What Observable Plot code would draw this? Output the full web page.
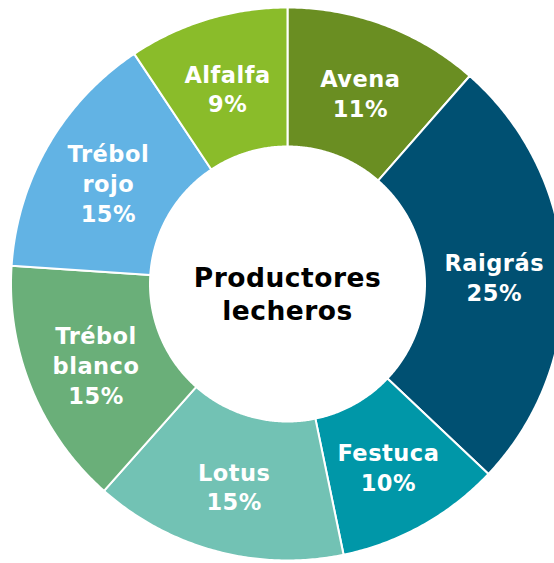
<!DOCTYPE html>
<html><head><meta charset="utf-8">
<script src="https://cdn.jsdelivr.net/npm/d3@7"></script>
<script src="https://cdn.jsdelivr.net/npm/@observablehq/plot@0.6"></script>
<style>html,body{margin:0;padding:0;background:#fff;overflow:hidden} svg text{letter-spacing:0.5px}</style>
</head><body><div id="chart"></div>
<script>
// Data (clockwise from 12 o'clock)
const categories = ["Avena", "Raigrás", "Festuca", "Lotus", "Trébol blanco", "Trébol rojo", "Alfalfa"];
const nameLines = ["Avena", "Raigrás", "Festuca", "Lotus", "Trébol\nblanco", "Trébol\nrojo", "Alfalfa"];
const shares = [11.45, 25.6, 9.7, 14.8, 14.5, 14.6, 9.35];
const percentLabels = ["11%", "25%", "10%", "15%", "15%", "15%", "9%"];
const colors = ["#6a8e22", "#005072", "#0097a8", "#72c2b4", "#6aaf79", "#62b3e4", "#8abc2a"];
const centerTitle = "Productores\nlecheros";

// Layout
const W = 554, H = 563;
const cx = 287, cy = 283.5, R = 276.5;
const innerRatio = 137.5 / 276.5;

const pie = d3.pie().sort(null).value(d => d.share);
const rows = categories.map((c, i) => ({cat: c, share: shares[i], label: nameLines[i] + "\n" + percentLabels[i]}));
const arcs = pie(rows);

const polys = [];
const centroids = [];
arcs.forEach(a => {
  const n = Math.max(8, Math.ceil((a.endAngle - a.startAngle) / (Math.PI / 360)));
  for (let k = 0; k <= n; k++) {
    const t = a.startAngle + (a.endAngle - a.startAngle) * k / n;
    polys.push({cat: a.data.cat, x: Math.sin(t), y: Math.cos(t)});
  }
  for (let k = n; k >= 0; k--) {
    const t = a.startAngle + (a.endAngle - a.startAngle) * k / n;
    polys.push({cat: a.data.cat, x: innerRatio * Math.sin(t), y: innerRatio * Math.cos(t)});
  }
  const m = (a.startAngle + a.endAngle) / 2, r = (1 + innerRatio) / 2;
  centroids.push({cat: a.data.cat, label: a.data.label, x: r * Math.sin(m), y: r * Math.cos(m)});
});

const chart = Plot.plot({
  width: W, height: H,
  margin: 0,
  axis: null,
  x: {domain: [-cx / R, (W - cx) / R]},
  y: {domain: [-(H - cy) / R, cy / R]},
  color: {type: "ordinal", domain: categories, range: colors},
  style: {fontFamily: "'DejaVu Sans', Verdana, sans-serif", background: "#fff"},
  marks: [
    Plot.line(polys, {x: "x", y: "y", z: "cat", fill: "cat", stroke: "#fff", strokeWidth: 2, curve: "linear-closed"}),
    Plot.text(centroids, {x: "x", y: "y", text: "label", fill: "#fff", fontWeight: "bold", fontSize: 22.5, lineHeight: 1.32, dy: 2}),
    Plot.text([centerTitle], {x: () => 0, y: () => 0, text: d => d, fill: "#000", fontWeight: "bold", fontSize: 26.5, lineHeight: 1.25, dy: 9})
  ]
});
document.getElementById("chart").appendChild(chart);
</script>
</body></html>
